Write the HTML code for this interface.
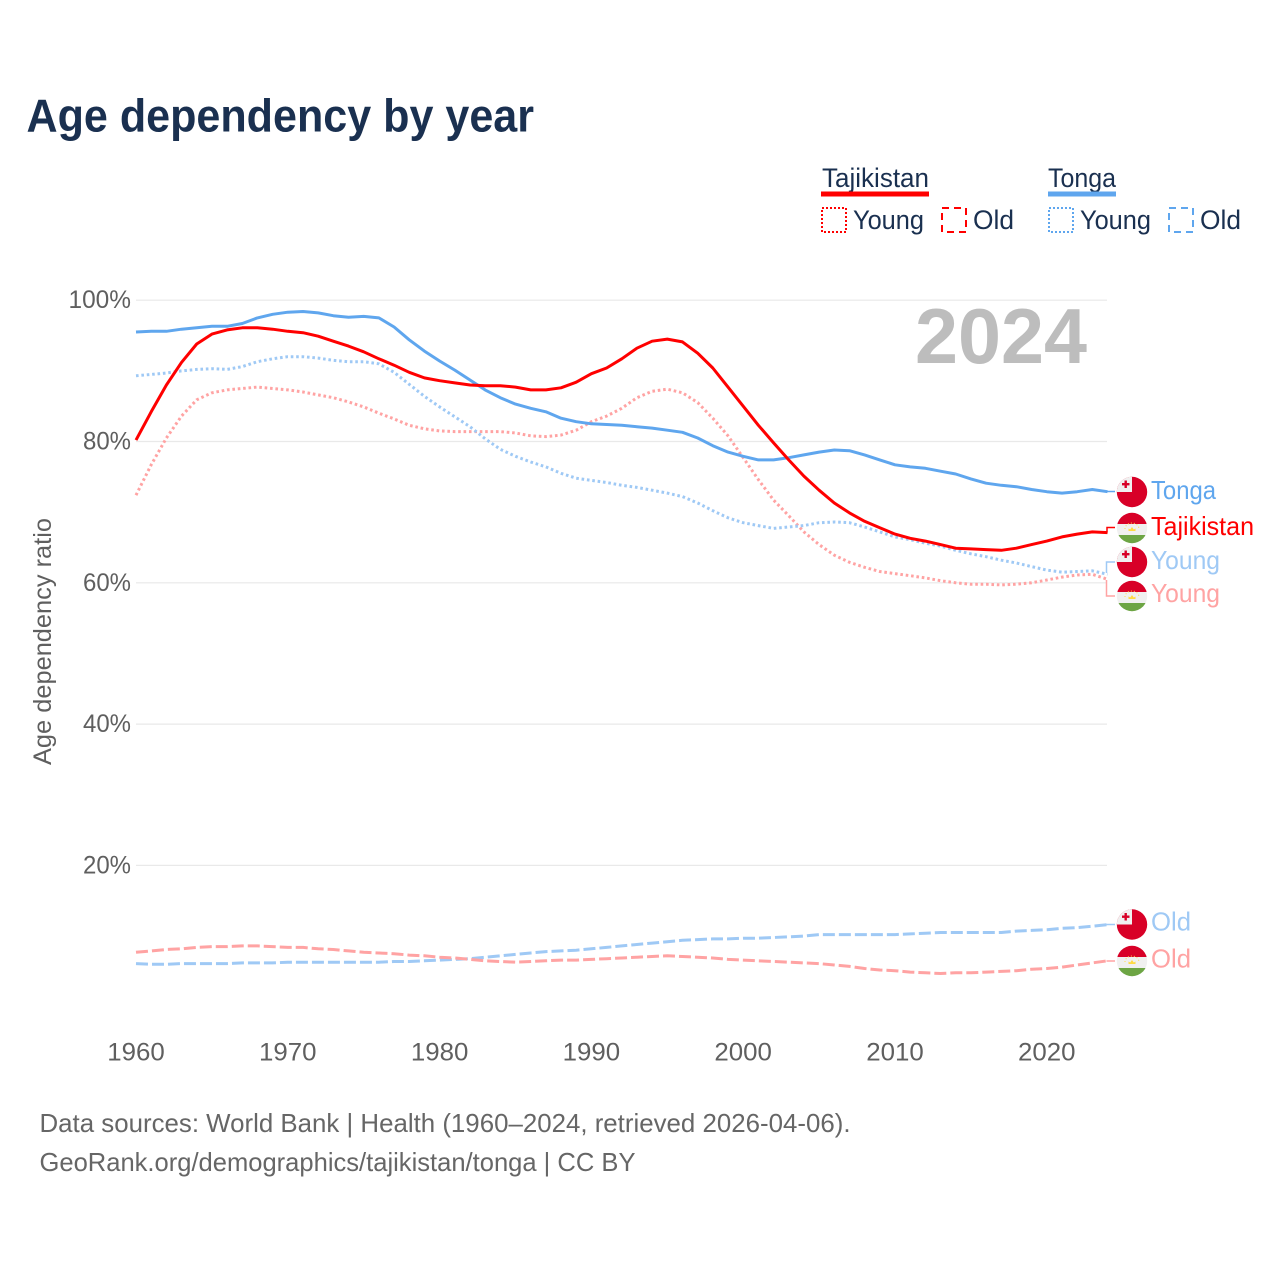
<!DOCTYPE html>
<html lang="en">
<head>
<meta charset="utf-8">
<title>Age dependency by year</title>
<style>
html,body{margin:0;padding:0;background:#fff;width:1280px;height:1280px;overflow:hidden}
svg{display:block}
text{font-family:"Liberation Sans",sans-serif}
</style>
</head>
<body>
<svg id="chart" xmlns="http://www.w3.org/2000/svg" width="1280" height="1280" viewBox="0 0 1280 1280">
  <text x="26.5" y="131.5" font-size="46" font-weight="700" fill="#1a3050" textLength="507.5" lengthAdjust="spacingAndGlyphs">Age dependency by year</text>

  <g font-size="26.5" fill="#1a3050">
    <g>
      <text x="822" y="187" textLength="107" lengthAdjust="spacingAndGlyphs">Tajikistan</text>
      <rect x="821" y="191.5" width="108" height="5" fill="#ff0000"/>
      <rect x="822" y="208" width="24" height="24" fill="none" stroke="#ff0000" stroke-width="2" stroke-dasharray="2 2"/>
      <text x="853" y="229" textLength="71" lengthAdjust="spacingAndGlyphs">Young</text>
      <rect x="942" y="208" width="24" height="24" fill="none" stroke="#ff0000" stroke-width="2" stroke-dasharray="7 5"/>
      <text x="973" y="229" textLength="41" lengthAdjust="spacingAndGlyphs">Old</text>
    </g>
    <g>
      <text x="1048" y="187" textLength="68" lengthAdjust="spacingAndGlyphs">Tonga</text>
      <rect x="1048" y="191.5" width="68" height="5" fill="#5fa6ee"/>
      <rect x="1049" y="208" width="24" height="24" fill="none" stroke="#5fa6ee" stroke-width="2" stroke-dasharray="2 2"/>
      <text x="1080" y="229" textLength="71" lengthAdjust="spacingAndGlyphs">Young</text>
      <rect x="1169" y="208" width="24" height="24" fill="none" stroke="#5fa6ee" stroke-width="2" stroke-dasharray="7 5"/>
      <text x="1200" y="229" textLength="41" lengthAdjust="spacingAndGlyphs">Old</text>
    </g>
  </g>

  <g id="grid"></g>
  <g id="yticks" font-size="25" fill="#5f5f5f"></g>
  <g id="xticks" font-size="25" fill="#5f5f5f"></g>
  <text transform="translate(51,765) rotate(-90)" font-size="25" fill="#5f5f5f" textLength="247" lengthAdjust="spacingAndGlyphs">Age dependency ratio</text>
  <text x="915" y="363" font-size="78" font-weight="700" fill="#bdbdbd" textLength="172" lengthAdjust="spacingAndGlyphs">2024</text>

  <g id="series" fill="none" stroke-linejoin="round"></g>

  <g fill="none" stroke-width="1.5">
    <path d="M1107 491.5H1115" stroke="#5fa6ee"/>
    <path d="M1107 532.5V527.5H1115" stroke="#ff0000"/>
    <path d="M1106.5 573V562H1115" stroke="#9fc9f5"/>
    <path d="M1106.5 580V596H1115" stroke="#ffa3a3"/>
    <path d="M1106.5 924.5H1115" stroke="#9fc9f5"/>
    <path d="M1106.5 961H1115" stroke="#ffa3a3"/>
  </g>

  <defs>
    <clipPath id="flag-clip"><circle cx="0" cy="0" r="15.2"/></clipPath>
    <g id="flag-tonga" clip-path="url(#flag-clip)">
      <rect x="-16" y="-16" width="32" height="32" fill="#d80027"/>
      <rect x="-16" y="-16" width="16" height="16" fill="#f0f0f0"/>
      <rect x="-7.5" y="-11.5" width="2.4" height="7.5" fill="#d80027"/>
      <rect x="-10" y="-9" width="7.5" height="2.4" fill="#d80027"/>
    </g>
    <g id="flag-tajikistan" clip-path="url(#flag-clip)">
      <rect x="-16" y="-16" width="32" height="32" fill="#f0f0f0"/>
      <rect x="-16" y="-16" width="32" height="12" fill="#d80027"/>
      <rect x="-16" y="7" width="32" height="9" fill="#6da544"/>
      <path d="M-3.5 3V0.5L-1.8 1.5 0 -1 1.8 1.5 3.5 0.5V3Z" fill="#ffda44"/>
      <path d="M-7 1A7 6 0 0 1 7 1" fill="none" stroke="#ffda44" stroke-width="1" stroke-dasharray="1 2"/>
    </g>
  </defs>

  <g font-size="26">
    <use href="#flag-tonga" x="1132" y="492"/>
    <text x="1151" y="499" fill="#5fa6ee" textLength="65" lengthAdjust="spacingAndGlyphs">Tonga</text>
    <use href="#flag-tajikistan" x="1132" y="528"/>
    <text x="1151" y="535" fill="#ff0000" textLength="103" lengthAdjust="spacingAndGlyphs">Tajikistan</text>
    <use href="#flag-tonga" x="1132" y="562"/>
    <text x="1151" y="569" fill="#9fc9f5" textLength="69" lengthAdjust="spacingAndGlyphs">Young</text>
    <use href="#flag-tajikistan" x="1132" y="596"/>
    <text x="1151" y="602" fill="#ffa3a3" textLength="69" lengthAdjust="spacingAndGlyphs">Young</text>
    <use href="#flag-tonga" x="1132" y="924.5"/>
    <text x="1151" y="930.5" fill="#9fc9f5" textLength="40" lengthAdjust="spacingAndGlyphs">Old</text>
    <use href="#flag-tajikistan" x="1132" y="961"/>
    <text x="1151" y="967.5" fill="#ffa3a3" textLength="40" lengthAdjust="spacingAndGlyphs">Old</text>
  </g>

  <g font-size="26" fill="#666666">
    <text x="39.5" y="1132" textLength="811" lengthAdjust="spacingAndGlyphs">Data sources: World Bank | Health (1960–2024, retrieved 2026-04-06).</text>
    <text x="39.5" y="1171" textLength="596" lengthAdjust="spacingAndGlyphs">GeoRank.org/demographics/tajikistan/tonga | CC BY</text>
  </g>
</svg>
<script>
const startYear = 1960;
const xTickLabels = [1960, 1970, 1980, 1990, 2000, 2010, 2020];
const yTickLabels = [20, 40, 60, 80, 100];

const tongaTotal = [95.5,95.6,95.6,95.9,96.1,96.3,96.3,96.7,97.5,98.0,
  98.3,98.4,98.2,97.8,97.6,97.7,97.5,96.2,94.4,92.8,
  91.4,90.1,88.7,87.3,86.2,85.3,84.7,84.2,83.3,82.8,
  82.5,82.4,82.3,82.1,81.9,81.6,81.3,80.5,79.4,78.5,
  77.9,77.4,77.4,77.7,78.1,78.5,78.8,78.7,78.1,77.4,
  76.7,76.4,76.2,75.8,75.4,74.7,74.1,73.8,73.6,73.2,
  72.9,72.7,72.9,73.2,72.9];
const tajikistanTotal = [80.2,84.2,88.0,91.2,93.8,95.2,95.8,96.1,96.1,95.9,
  95.6,95.4,94.9,94.2,93.5,92.7,91.7,90.8,89.8,89.0,
  88.6,88.3,88.0,87.9,87.9,87.7,87.3,87.3,87.6,88.4,
  89.6,90.4,91.7,93.2,94.2,94.5,94.1,92.5,90.4,87.7,
  85.0,82.3,79.8,77.4,75.1,73.1,71.3,69.9,68.7,67.8,
  66.9,66.3,65.9,65.4,64.9,64.8,64.7,64.6,64.9,65.4,
  65.9,66.5,66.9,67.2,67.1];
const tongaYoung = [89.3,89.5,89.7,90.0,90.2,90.3,90.2,90.6,91.3,91.7,
  92.0,92.0,91.8,91.5,91.3,91.3,91.0,89.8,88.1,86.4,
  84.9,83.5,82.1,80.4,78.9,77.9,77.1,76.4,75.5,74.8,
  74.5,74.2,73.8,73.5,73.1,72.7,72.2,71.3,70.2,69.2,
  68.5,68.1,67.7,67.9,68.1,68.5,68.6,68.5,67.9,67.2,
  66.5,66.1,65.6,65.2,64.6,64.1,63.7,63.2,62.8,62.3,
  61.8,61.5,61.6,61.7,61.2];
const tajikistanYoung = [72.4,76.7,80.5,83.6,85.9,86.9,87.3,87.5,87.7,87.5,
  87.3,87.0,86.6,86.2,85.6,84.9,84.0,83.2,82.3,81.8,
  81.5,81.4,81.4,81.4,81.4,81.2,80.8,80.7,80.9,81.6,
  82.8,83.6,84.7,86.2,87.1,87.4,86.9,85.5,83.3,80.8,
  77.7,74.6,71.7,69.5,67.2,65.4,63.9,62.9,62.2,61.6,
  61.3,61.0,60.7,60.3,60.0,59.8,59.8,59.7,59.8,60.0,
  60.4,60.8,61.1,61.2,60.5];
const tongaOld = [6.1,6.0,6.0,6.1,6.1,6.1,6.1,6.2,6.2,6.2,
  6.3,6.3,6.3,6.3,6.3,6.3,6.3,6.4,6.4,6.5,
  6.6,6.7,6.8,7.0,7.2,7.4,7.6,7.8,7.9,8.0,
  8.2,8.4,8.6,8.8,9.0,9.2,9.4,9.5,9.6,9.6,
  9.7,9.7,9.8,9.9,10.0,10.2,10.2,10.2,10.2,10.2,
  10.2,10.3,10.4,10.5,10.5,10.5,10.5,10.5,10.7,10.8,
  10.9,11.1,11.2,11.4,11.6];
const tajikistanOld = [7.7,7.9,8.1,8.2,8.4,8.5,8.5,8.6,8.6,8.5,
  8.4,8.4,8.2,8.1,7.9,7.7,7.6,7.5,7.3,7.2,
  7.0,6.9,6.7,6.5,6.4,6.3,6.4,6.5,6.6,6.6,
  6.7,6.8,6.9,7.0,7.1,7.2,7.1,7.0,6.9,6.7,
  6.6,6.5,6.4,6.3,6.2,6.1,5.9,5.7,5.4,5.2,
  5.1,4.9,4.8,4.7,4.8,4.8,4.9,5.0,5.1,5.3,
  5.4,5.6,5.9,6.2,6.5];

const NS = 'http://www.w3.org/2000/svg';
function xScale(year) { return 136 + (year - 1960) * 15.18; }
function yScale(value) { return 1006.7 - value * 7.065; }
function make(tag, attrs, parent) {
  const el = document.createElementNS(NS, tag);
  for (const k in attrs) el.setAttribute(k, attrs[k]);
  parent.appendChild(el);
  return el;
}

const gridGroup = document.getElementById('grid');
const yGroup = document.getElementById('yticks');
const xGroup = document.getElementById('xticks');
const seriesGroup = document.getElementById('series');

yTickLabels.forEach(function (v) {
  const line = make('line', {x1: 136, x2: 1107, y1: yScale(v), y2: yScale(v), stroke: '#e9e9e9', 'stroke-width': 1.2}, gridGroup);
  
  
  const label = v + '%';
  const t = make('text', {x: 131, y: yScale(v) + 8, 'text-anchor': 'end', textLength: (label.length - 1) * 14.5 + 19, lengthAdjust: 'spacingAndGlyphs'}, yGroup);
  t.textContent = label;
  
  
});

xTickLabels.forEach(function (y) {
  const t = make('text', {x: xScale(y), y: 1060.5, 'text-anchor': 'middle', textLength: 57.5, lengthAdjust: 'spacingAndGlyphs'}, xGroup);
  t.textContent = y;
  
  
});

function drawSeries(values, name, color, width, dash) {
  const pts = values.map(function (v, i) {
    return xScale(startYear + i).toFixed(1) + ',' + yScale(v).toFixed(1);
  }).join(' ');
  const attrs = {points: pts, stroke: color, 'stroke-width': width};
  if (dash) attrs['stroke-dasharray'] = dash;
  const line = make('polyline', attrs, seriesGroup);
  
  
}

drawSeries(tongaOld, 'line-tonga-old', '#9fc9f5', 3, '12 4');
drawSeries(tajikistanOld, 'line-tajikistan-old', '#ffa3a3', 3, '12 4');
drawSeries(tajikistanYoung, 'line-tajikistan-young', '#ffa3a3', 3, '2.6 2.8');
drawSeries(tongaYoung, 'line-tonga-young', '#9fc9f5', 3, '2.6 2.8');
drawSeries(tongaTotal, 'line-tonga-total', '#5fa6ee', 3);
drawSeries(tajikistanTotal, 'line-tajikistan-total', '#ff0000', 3);
</script>
</body>
</html>
